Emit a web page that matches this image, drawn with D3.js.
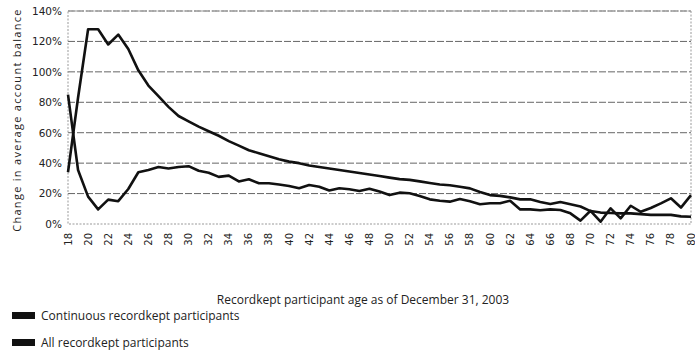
<!DOCTYPE html>
<html><head><meta charset="utf-8">
<script src="https://cdn.jsdelivr.net/npm/d3@7"></script>
<style>body{margin:0;background:#fff}svg{display:block}</style>
</head><body>
<svg id="c" width="695" height="354"></svg>
<script>
const ages = d3.range(18, 81);
const continuous = [34,83,128,128,118,124.5,115,101,91,84,77,71,67.5,64,61,58,54.5,51.5,48.5,46.5,44.5,42.5,41,40,38.5,37.5,36.5,35.5,34.5,33.5,32.5,31.5,30.5,29.5,29,28,27,26,25.5,24.5,23.4,21,19,18.5,17.5,16.2,16.2,14.5,13.2,14.5,13,11.5,8.5,7.5,7.2,7,7,6.5,6,6,6,5,4.8];
const allParticipants = [85,35.5,18,9.6,16,15,23,34,35.5,37.5,36.5,37.5,38,35,33.7,31,31.8,28,29.4,26.8,26.8,26,25,23.5,25.6,24.5,22,23.5,22.8,21.7,23.2,21.3,19,20.6,20.2,18.4,16.2,15.3,14.7,16.4,15,13,13.6,13.6,15.3,9.6,9.6,9,9.6,9.2,7,2.2,8.7,1.5,10.3,3.7,12,8,10.5,13.6,16.9,10.8,19];
const yTicks = [0,20,40,60,80,100,120,140];
const xTicks = d3.range(18, 81, 2);
const seriesNames = ["Continuous recordkept participants","All recordkept participants"];

const svg = d3.select("#c");
const L=68, R=691, T=11, B=224;
const x = d3.scaleLinear().domain([18,80]).range([L,R]);
const y = d3.scaleLinear().domain([0,140]).range([B,T]);
const font = "'DejaVu Sans', Verdana, sans-serif";
const font2 = "'Open Sans', 'Noto Sans', sans-serif";

// gridlines
svg.append("g").selectAll("line").data(yTicks.filter(d=>d>0)).join("line")
  .attr("x1",L).attr("x2",R).attr("y1",d=>y(d)).attr("y2",d=>y(d))
  .attr("stroke","#666").attr("stroke-width",1).attr("stroke-dasharray","7,2");
// border
svg.append("rect").attr("x",L).attr("y",T).attr("width",R-L).attr("height",B-T)
  .attr("fill","none").attr("stroke","#999").attr("stroke-width",1).attr("stroke-dasharray","2,1.5");

// y axis
const ya = svg.append("g").attr("transform",`translate(${L},0)`)
  .call(d3.axisLeft(y).tickValues(yTicks).tickFormat(d=>d+"%").tickSize(0).tickPadding(6));
ya.select(".domain").remove();
ya.selectAll("text").attr("font-family",font).attr("font-size",10.5).attr("fill","#222");

// x axis
const xa = svg.append("g").attr("transform",`translate(0,${B})`)
  .call(d3.axisBottom(x).tickValues(xTicks).tickSize(0));
xa.select(".domain").remove();
xa.selectAll("text").attr("font-family",font).attr("font-size",10).attr("fill","#222")
  .attr("text-anchor","end").attr("dy","0.3em")
  .attr("transform","translate(0,9) rotate(-90)").attr("x",0).attr("y",0);

// lines
const line = d3.line().x((d,i)=>x(ages[i])).y(d=>y(d));
[continuous, allParticipants].forEach(s=>{
  svg.append("path").datum(s).attr("d",line).attr("fill","none")
    .attr("stroke","#111").attr("stroke-width",2.6).attr("stroke-linejoin","round");
});

// titles
svg.append("text").attr("x",363).attr("y",304).attr("text-anchor","middle")
  .attr("font-family",font2).attr("font-size",12).attr("fill","#222")
  .text("Recordkept participant age as of December 31, 2003");
svg.append("text").attr("transform","translate(21,120) rotate(-90)").attr("text-anchor","middle")
  .attr("font-family",font2).attr("font-size",11).attr("letter-spacing","1.3px").attr("fill","#222")
  .text("Change in average account balance");

// legend
const lg = svg.append("g").selectAll("g").data(seriesNames).join("g")
  .attr("transform",(d,i)=>`translate(12,${312+i*27})`);
lg.append("rect").attr("width",23).attr("height",7).attr("fill","#111");
lg.append("text").attr("x",29).attr("y",7.5).attr("font-family",font2).attr("font-size",12)
  .attr("fill","#222").text(d=>d);
</script>
</body></html>
